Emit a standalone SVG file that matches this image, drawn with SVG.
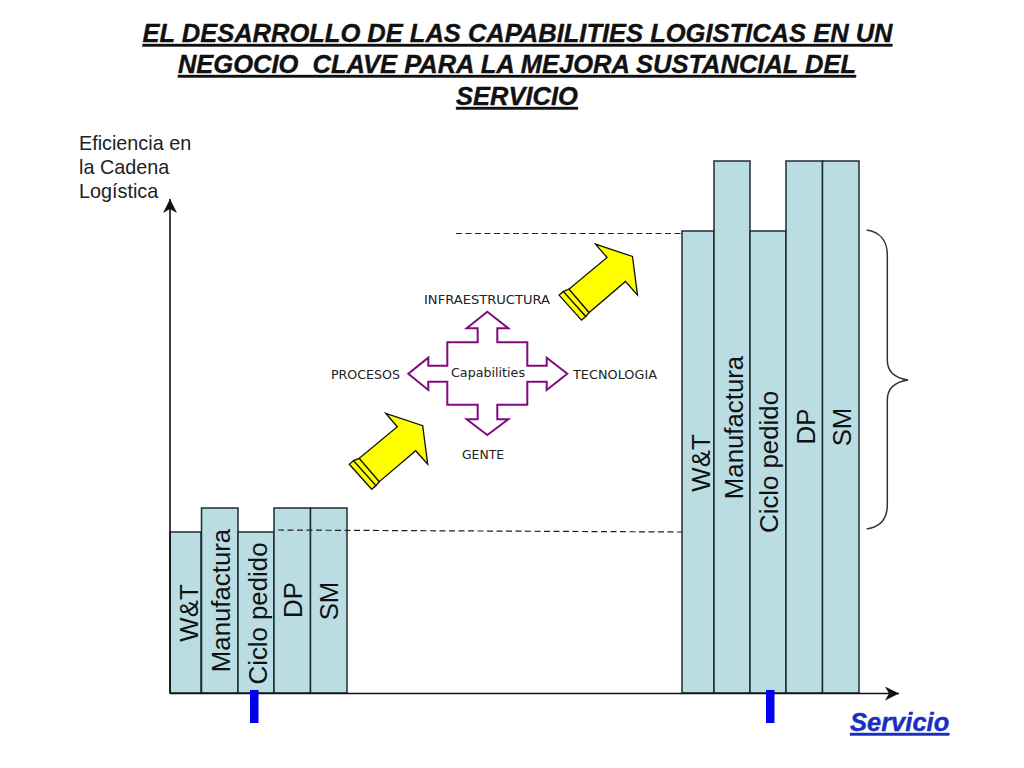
<svg xmlns="http://www.w3.org/2000/svg" xmlns:xlink="http://www.w3.org/1999/xlink" width="1024" height="768" viewBox="0 0 1024 768">
<style>
.title{font:italic bold 25.5px "Liberation Sans",Arial,sans-serif;text-decoration:underline;fill:#111;stroke:#111;stroke-width:.35;text-anchor:middle;white-space:pre}
.axis{font:19.8px "Liberation Sans",Arial,sans-serif;fill:#222}
.bar{fill:#b9dde2;stroke:#1f2d30;stroke-width:1.5}
.vl{font:25.8px "Liberation Sans",Arial,sans-serif;fill:#111;text-anchor:middle}
.cap{font:12px "DejaVu Sans",Verdana,sans-serif;fill:#222}
.line{fill:none;stroke:#111;stroke-width:1.6}
.dash{fill:none;stroke:#222;stroke-width:1.2;stroke-dasharray:6 3.5}
.tick{fill:#0000f0}
.ya{fill:#ffff00;stroke:#111;stroke-width:1.3;stroke-linejoin:miter}
</style>
<defs>
<marker id="ah" markerUnits="userSpaceOnUse" markerWidth="16" markerHeight="16" refX="14" refY="7" orient="auto"><path d="M0 0L14 7L0 14L4 7Z" fill="#111"/></marker>
<g id="yarrow">
<path class="ya" d="M349.3 464.3L371.7 489.3L376 485.6L353.6 460.6Z"/>
<path class="ya" d="M353.6 460.6L376 485.6L379.3 481.7L359.3 458.3Z"/>
<path class="ya" d="M385.7 413.3L422.7 425.7L427.7 464.3L415.7 450.7L379.3 481.7L359.3 458.3L397.3 426.7Z"/>
</g>
</defs>
<g id="title">
<text class="title" x="517.5" y="42">EL DESARROLLO DE LAS CAPABILITIES LOGISTICAS EN UN</text>
<text class="title" x="517" y="73">NEGOCIO  CLAVE PARA LA MEJORA SUSTANCIAL DEL</text>
<text class="title" x="517" y="105">SERVICIO</text>
</g>
<g id="axis-label">
<text class="axis" x="79" y="150">Eficiencia en</text>
<text class="axis" x="79" y="174">la Cadena</text>
<text class="axis" x="79" y="198">Logística</text>
</g>
<g id="left-wt"><rect class="bar" x="170" y="532" width="31" height="161"/><text class="vl" transform="translate(198 613) rotate(-90)">W&amp;T</text></g>
<g id="left-manufactura"><rect class="bar" x="201.500" y="508" width="36.500" height="185"/><text class="vl" transform="translate(230 600.500) rotate(-90)">Manufactura</text></g>
<g id="left-ciclo"><rect class="bar" x="238" y="532" width="36" height="161"/><text class="vl" transform="translate(267 613.500) rotate(-90)">Ciclo pedido</text></g>
<g id="left-dp"><rect class="bar" x="274" y="508" width="36.500" height="185"/><text class="vl" transform="translate(302 600) rotate(-90)">DP</text></g>
<g id="left-sm"><rect class="bar" x="310.500" y="508" width="36.500" height="185"/><text class="vl" transform="translate(338 601) rotate(-90)">SM</text></g>
<g id="right-wt"><rect class="bar" x="682" y="231" width="32" height="462"/><text class="vl" transform="translate(710 463) rotate(-90)">W&amp;T</text></g>
<g id="right-manufactura"><rect class="bar" x="714" y="161" width="36" height="532"/><text class="vl" transform="translate(743 427.500) rotate(-90)">Manufactura</text></g>
<g id="right-ciclo"><rect class="bar" x="750" y="231" width="36" height="462"/><text class="vl" transform="translate(778 462) rotate(-90)">Ciclo pedido</text></g>
<g id="right-dp"><rect class="bar" x="786" y="161" width="36.500" height="532"/><text class="vl" transform="translate(815 426.500) rotate(-90)">DP</text></g>
<g id="right-sm"><rect class="bar" x="822.500" y="161" width="36.500" height="532"/><text class="vl" transform="translate(851 427) rotate(-90)">SM</text></g>
<g id="connectors">
<path class="line" d="M170 693V199" marker-end="url(#ah)"/>
<path class="line" d="M170 693.500H899" marker-end="url(#ah)"/>
<path class="dash" d="M456 233.500H682"/>
<path class="dash" d="M278 530L682 532"/>
<path d="M866.700 230C880 232 887.300 241 887.300 255V360C887.300 372 895 378 908 380C895 382 887.300 388 887.300 400V505C887.300 519 880 527 866.700 529" fill="none" stroke="#333" stroke-width="1.5"/>
</g>
<g id="tick-left"><rect class="tick" x="250" y="690" width="8.500" height="33"/></g>
<g id="tick-right"><rect class="tick" x="766" y="690" width="8.500" height="33"/></g>
<g id="servicio"><text x="850" y="731" style="font:italic bold 25.500px 'Liberation Sans',Arial,sans-serif;text-decoration:underline;fill:#1a2fc0;stroke:#1a2fc0;stroke-width:.4">Servicio</text></g>
<g id="arrow-lower"><use href="#yarrow" xlink:href="#yarrow"/></g>
<g id="arrow-upper"><use href="#yarrow" xlink:href="#yarrow" transform="translate(209.800 -169.200)"/></g>
<g id="capabilities">
<polygon fill="#fff" stroke="#800a80" stroke-width="2" points="487.300,311.700 508.300,328.300 497.300,328.300 497.300,342.300 527.300,342.300 527.300,365.700 546.700,365.700 546.700,357.700 567.300,373.700 546.700,390 546.700,381.700 527.300,381.700 527.300,404.700 497.300,404.700 497.300,419.300 508.300,419.300 487.300,435 466.700,419.300 477.700,419.300 477.700,404.700 447.300,404.700 447.300,381.700 428.300,381.700 428.300,390 408.300,373.700 428.300,357.700 428.300,365.700 447.300,365.700 447.300,342.300 477.700,342.300 477.700,328.300 466.700,328.300"/>
<text class="cap" x="451" y="377" textLength="74" lengthAdjust="spacingAndGlyphs">Capabilities</text>
</g>
<g id="label-infraestructura"><text class="cap" x="424" y="304" textLength="126" lengthAdjust="spacingAndGlyphs">INFRAESTRUCTURA</text></g>
<g id="label-procesos"><text class="cap" x="331" y="379" textLength="69" lengthAdjust="spacingAndGlyphs">PROCESOS</text></g>
<g id="label-tecnologia"><text class="cap" x="573" y="379" textLength="84" lengthAdjust="spacingAndGlyphs">TECNOLOGIA</text></g>
<g id="label-gente"><text class="cap" x="462" y="459" textLength="42" lengthAdjust="spacingAndGlyphs">GENTE</text></g>
</svg>
